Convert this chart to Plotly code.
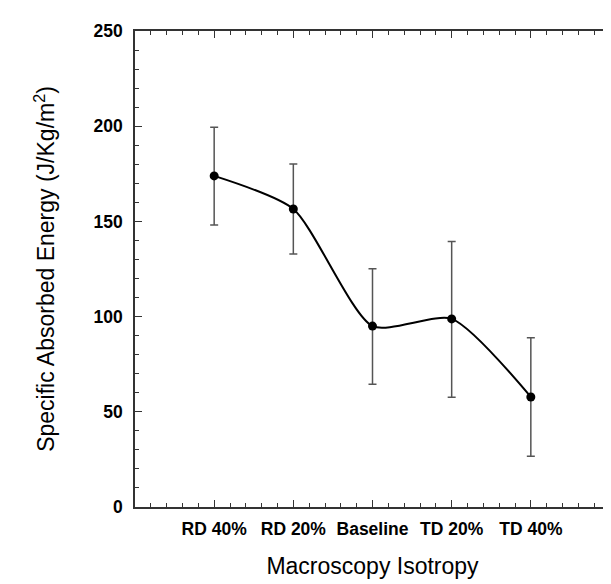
import plotly.graph_objects as go

categories = ["RD 40%", "RD 20%", "Baseline", "TD 20%", "TD 40%"]
positions = [1, 2, 3, 4, 5]
energy = [173.9, 156.5, 95.0, 98.8, 57.8]
err_upper = [25.5, 23.7, 30.1, 40.7, 31.1]
err_lower = [25.8, 23.6, 30.5, 41.1, 31.2]

fig = go.Figure()
fig.add_trace(go.Scatter(
    x=positions, y=energy,
    mode="lines+markers",
    line=dict(color="black", width=2, shape="spline", smoothing=0.65),
    marker=dict(color="black", size=9),
    error_y=dict(type="data", symmetric=False, array=err_upper, arrayminus=err_lower,
                 color="#555555", thickness=1.5, width=4),
    showlegend=False,
))

axis_common = dict(
    showline=True, linecolor="#333333", linewidth=1.5, mirror="ticks",
    ticks="inside", ticklen=7, tickwidth=1.2, tickcolor="#333333",
    showgrid=False, zeroline=False,
)

fig.update_xaxes(
    range=[0, 6], tickmode="array", tickvals=[0, 1, 2, 3, 4, 5, 6],
    ticktext=[""] + categories + [""],
    tickfont=dict(family="Liberation Sans", size=17.5, color="black", weight="bold"),
    ticklabelstandoff=5,
    minor=dict(dtick=0.2, ticks="inside", ticklen=4, tickcolor="#333333", tickwidth=1),
    title=dict(text="Macroscopy Isotropy", font=dict(family="Liberation Sans", size=23, color="black"), standoff=20),
    **axis_common,
)
fig.update_yaxes(
    range=[0, 250], tickmode="linear", tick0=0, dtick=50,
    tickfont=dict(family="Liberation Sans", size=17.5, color="black", weight="bold"),
    ticklabelstandoff=7,
    minor=dict(dtick=10, ticks="inside", ticklen=4, tickcolor="#333333", tickwidth=1),
    title=dict(text="Specific Absorbed Energy (J/Kg/m<sup>2</sup>)", font=dict(family="Liberation Sans", size=23, color="black"), standoff=32),
    **axis_common,
)

fig.update_layout(
    width=611, height=584,
    margin=dict(l=127, r=7, t=23, b=85),
    paper_bgcolor="white", plot_bgcolor="white",
)

fig.write_html("out.html")
